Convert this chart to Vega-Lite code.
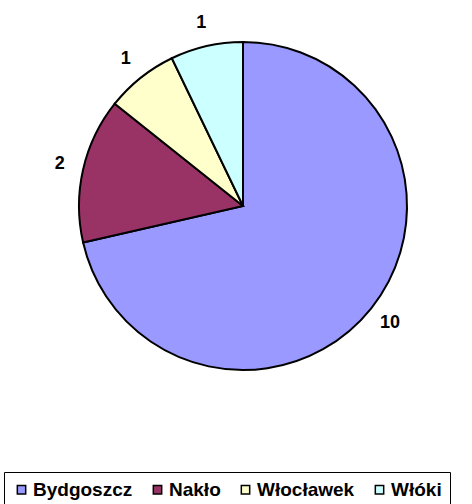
{
  "$schema": "https://vega.github.io/schema/vega-lite/v6.json",
  "width": 458,
  "height": 412,
  "padding": {"left": 14, "top": 0, "right": 0, "bottom": 92},
  "autosize": {"type": "none"},
  "background": "white",
  "data": {
    "values": [
      {"miasto": "Bydgoszcz", "liczba": 10, "kolejnosc": 1},
      {"miasto": "Nakło", "liczba": 2, "kolejnosc": 2},
      {"miasto": "Włocławek", "liczba": 1, "kolejnosc": 3},
      {"miasto": "Włóki", "liczba": 1, "kolejnosc": 4}
    ]
  },
  "encoding": {
    "theta": {"field": "liczba", "type": "quantitative", "stack": true},
    "order": {"field": "kolejnosc", "type": "quantitative"}
  },
  "layer": [
    {
      "mark": {"type": "arc", "radius": 164, "stroke": "black", "strokeWidth": 2},
      "encoding": {
        "color": {
          "field": "miasto",
          "type": "nominal",
          "sort": ["Bydgoszcz", "Nakło", "Włocławek", "Włóki"],
          "scale": {
            "domain": ["Bydgoszcz", "Nakło", "Włocławek", "Włóki"],
            "range": ["#9999FF", "#993366", "#FFFFCC", "#CCFFFF"]
          },
          "legend": {
            "orient": "none",
            "legendX": -10,
            "legendY": 472,
            "direction": "horizontal",
            "title": null,
            "symbolType": "square",
            "symbolSize": 70,
            "symbolStrokeColor": "black",
            "symbolStrokeWidth": 1.5,
            "symbolOpacity": 1,
            "labelFont": "Liberation Sans",
            "labelFontSize": 19,
            "labelFontWeight": "bold",
            "labelColor": "black",
            "labelOffset": 2,
            "labelLimit": 0,
            "columnPadding": 15,
            "padding": 8,
            "strokeColor": "black"
          }
        }
      }
    },
    {
      "mark": {"type": "text", "radius": 188, "font": "Liberation Sans", "fontSize": 18, "fontWeight": "bold", "fill": "black"},
      "encoding": {
        "text": {"field": "liczba", "type": "quantitative"},
        "detail": {"field": "miasto", "type": "nominal"}
      }
    }
  ]
}
